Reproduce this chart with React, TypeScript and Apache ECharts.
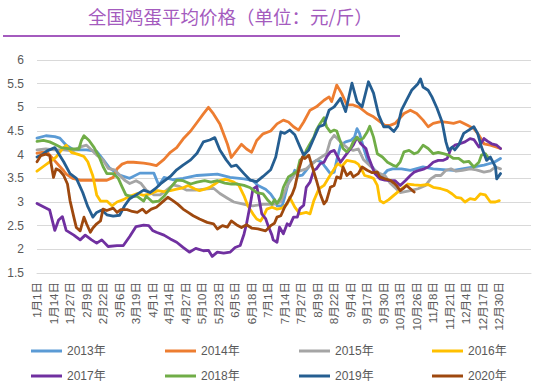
import React, { useEffect, useRef } from "react";
import * as echarts from "echarts";

const TITLE = "全国鸡蛋平均价格（单位：元/斤）";
const MONTH_DAYS = [31, 29, 31, 30, 31, 30, 31, 31, 30, 31, 30, 31];
const AXIS_LENGTH = 390;

const NAMES = ["2013年", "2014年", "2015年", "2016年", "2017年", "2018年", "2019年", "2020年"];
const COLORS = ["#5B9BD5", "#ED7D31", "#A5A5A5", "#FFC000", "#7030A0", "#70AD47", "#255E91", "#9E480E"];

// [day index from 1月1日, price]
const y2013: [number, number][] = [[0,4.35],[7,4.4],[14,4.38],[18,4.35],[23,4.2],[29,4.1],[39,4.1],[47,4.07],[52,3.9],[57,3.72],[65,3.57],[73,3.5],[81,3.61],[92,3.61],[96,3.35],[100,3.52],[107,3.47],[115,3.5],[126,3.56],[142,3.59],[152,3.52],[163,3.49],[170,3.45],[174,3.35],[180,3.27],[184,3.17],[187,3.05],[189,2.92],[193,2.92],[195,3.1],[198,3.42],[201,3.53],[203,3.67],[206,3.55],[209,3.57],[212,3.67],[216,3.81],[220,3.88],[224,3.85],[227,3.74],[231,3.6],[234,3.63],[236,3.88],[239,4.2],[243,4.27],[247,4.3],[250,4.37],[252,4.55],[254,4.45],[257,4.16],[260,3.9],[264,3.74],[268,3.6],[272,3.55],[276,3.67],[280,3.7],[287,3.7],[294,3.67],[304,3.74],[312,3.7],[328,3.67],[344,3.74],[352,3.78],[360,3.84],[365,3.92]];
const y2014: [number, number][] = [[0,4.03],[4,4.05],[8,4.05],[13,3.9],[18,3.75],[21,3.66],[23,3.59],[28,3.5],[34,3.46],[44,3.46],[55,3.46],[60,3.52],[63,3.7],[67,3.8],[71,3.84],[76,3.84],[84,3.82],[89,3.8],[94,3.77],[100,3.9],[105,4.05],[110,4.15],[115,4.33],[121,4.5],[126,4.68],[131,4.86],[135,5.0],[139,4.86],[144,4.65],[150,4.22],[153,3.94],[157,4.08],[161,4.22],[165,4.12],[169,4.05],[173,4.3],[178,4.44],[184,4.5],[189,4.65],[194,4.73],[198,4.69],[202,4.59],[206,4.52],[210,4.69],[215,4.94],[220,5.01],[226,5.15],[230,5.22],[232,5.12],[236,5.47],[240,5.29],[244,5.05],[249,5.05],[254,5.0],[260,4.87],[265,4.8],[270,4.7],[274,4.62],[278,4.62],[282,4.66],[286,4.78],[289,4.87],[294,4.94],[299,4.87],[304,4.73],[308,4.59],[312,4.66],[318,4.7],[323,4.68],[328,4.66],[333,4.7],[339,4.62],[344,4.55],[348,4.41],[352,4.23],[357,4.2],[362,4.16],[365,4.13]];
const y2015: [number, number][] = [[0,4.1],[7,4.12],[14,4.1],[21,4.1],[28,4.08],[35,4.17],[39,4.2],[43,4.1],[47,3.99],[52,3.89],[56,3.71],[61,3.68],[65,3.57],[69,3.46],[73,3.39],[78,3.45],[82,3.39],[86,3.25],[92,3.15],[97,3.15],[102,3.25],[107,3.36],[112,3.33],[118,3.25],[125,3.25],[132,3.27],[139,3.29],[144,3.18],[150,3.08],[155,3.0],[160,2.97],[165,2.94],[170,2.92],[178,2.95],[186,2.95],[192,3.0],[195,3.21],[198,3.39],[204,3.63],[212,3.7],[220,3.88],[228,4.02],[231,4.3],[234,4.41],[238,4.3],[242,4.2],[245,4.13],[249,4.09],[253,4.12],[257,3.9],[262,3.77],[266,3.67],[270,3.6],[274,3.56],[278,3.4],[282,3.3],[286,3.2],[290,3.22],[294,3.24],[300,3.28],[306,3.35],[310,3.49],[314,3.56],[318,3.56],[322,3.67],[326,3.7],[330,3.65],[335,3.67],[341,3.7],[346,3.68],[352,3.63],[357,3.66],[361,3.74],[365,3.7]];
const y2016: [number, number][] = [[0,3.65],[5,3.75],[10,3.85],[15,3.95],[20,4.12],[23,4.2],[27,4.05],[33,4.0],[37,3.96],[40,3.85],[44,3.55],[47,3.15],[50,3.02],[55,3.02],[59,2.92],[63,3.0],[68,3.05],[73,3.12],[79,3.18],[84,3.14],[89,3.17],[95,3.24],[100,3.22],[105,3.24],[110,3.27],[115,3.3],[119,3.35],[124,3.28],[128,3.24],[132,3.27],[136,3.31],[140,3.38],[144,3.45],[148,3.48],[151,3.46],[155,3.42],[159,3.35],[163,3.13],[166,2.92],[170,2.75],[173,2.64],[176,2.6],[178,2.68],[181,2.85],[185,2.89],[189,2.85],[193,2.87],[197,2.96],[199,3.1],[203,2.89],[207,2.75],[212,2.78],[215,2.75],[218,3.03],[222,3.28],[226,3.35],[230,3.53],[235,3.74],[237,3.81],[240,3.75],[244,3.88],[250,3.85],[253,3.8],[256,3.67],[258,3.56],[262,3.53],[265,3.5],[268,3.35],[270,3.03],[273,2.98],[277,3.05],[280,3.12],[284,3.21],[288,3.3],[292,3.38],[297,3.36],[302,3.35],[308,3.37],[312,3.31],[318,3.28],[323,3.24],[327,3.17],[330,3.1],[334,3.08],[337,3.0],[341,3.07],[345,3.05],[349,3.17],[353,3.15],[357,3.0],[361,3.0],[364,3.03]];
const y2017: [number, number][] = [[0,2.97],[5,2.9],[10,2.83],[14,2.4],[17,2.62],[20,2.69],[23,2.4],[29,2.3],[34,2.2],[38,2.3],[43,2.2],[47,2.13],[51,2.2],[56,2.06],[63,2.08],[68,2.08],[73,2.27],[78,2.48],[84,2.51],[88,2.5],[91,2.4],[94,2.36],[100,2.3],[105,2.22],[110,2.15],[115,2.04],[120,1.94],[125,2.02],[131,1.97],[135,1.98],[138,1.85],[142,1.94],[147,1.92],[152,1.94],[156,2.04],[160,2.08],[163,2.32],[165,2.54],[168,2.96],[170,3.27],[173,3.33],[174,3.2],[177,2.75],[180,2.65],[182,2.5],[185,2.3],[186,2.2],[189,2.15],[191,2.47],[194,2.33],[197,2.54],[199,2.5],[202,2.68],[205,2.68],[207,2.86],[210,2.93],[212,3.31],[215,3.42],[218,3.67],[220,3.7],[223,3.81],[226,3.84],[228,3.95],[231,4.06],[234,4.09],[236,3.99],[239,3.84],[242,3.95],[245,4.06],[249,4.2],[252,4.37],[255,4.23],[259,4.13],[261,3.95],[264,3.74],[266,3.6],[270,3.49],[274,3.46],[278,3.45],[282,3.45],[286,3.35],[290,3.45],[294,3.56],[297,3.63],[301,3.67],[305,3.7],[308,3.74],[312,3.84],[316,3.88],[320,3.88],[323,3.92],[326,4.13],[329,4.2],[333,4.23],[337,4.27],[341,4.34],[344,4.32],[348,4.16],[352,4.34],[355,4.28],[358,4.23],[362,4.2],[365,4.13]];
const y2018: [number, number][] = [[0,4.28],[5,4.3],[10,4.27],[14,4.22],[19,4.15],[26,4.12],[33,4.12],[35,4.3],[37,4.4],[41,4.3],[45,4.15],[49,3.95],[52,3.75],[55,3.6],[60,3.6],[64,3.5],[67,3.32],[70,3.15],[74,3.12],[79,3.12],[84,3.02],[86,3.12],[91,3.0],[96,3.02],[100,3.12],[105,3.3],[110,3.46],[115,3.45],[121,3.38],[126,3.42],[132,3.45],[137,3.42],[142,3.45],[148,3.4],[153,3.38],[158,3.38],[163,3.35],[168,3.3],[173,3.2],[178,3.17],[182,3.03],[185,2.95],[187,3.05],[189,2.97],[192,3.1],[194,3.31],[198,3.53],[202,3.6],[205,3.65],[207,3.88],[210,3.95],[212,4.09],[215,4.23],[218,4.37],[220,4.52],[223,4.66],[226,4.78],[228,4.59],[231,4.48],[234,4.52],[236,4.5],[239,4.27],[241,4.13],[244,4.06],[247,4.15],[249,4.27],[252,4.37],[254,4.3],[257,4.35],[260,4.48],[262,4.6],[265,4.37],[268,4.02],[272,3.95],[276,3.84],[280,3.78],[283,3.75],[286,3.85],[289,4.06],[293,4.09],[297,4.02],[300,4.05],[304,4.2],[308,4.13],[312,4.02],[316,4.05],[320,4.02],[324,3.99],[328,3.92],[332,3.92],[336,3.84],[340,3.86],[344,3.74],[348,3.84],[350,3.99],[353,4.02],[355,3.95]];
const y2019: [number, number][] = [[0,3.95],[4,4.0],[8,4.08],[14,4.15],[21,3.85],[26,3.6],[31,3.5],[36,3.2],[40,2.9],[44,2.68],[47,2.78],[51,2.83],[55,2.73],[60,2.7],[65,2.72],[69,2.92],[73,3.07],[78,3.15],[84,3.25],[89,3.2],[94,3.3],[98,3.4],[105,3.54],[110,3.68],[115,3.78],[121,3.89],[126,4.03],[131,4.27],[136,4.31],[140,4.36],[144,4.1],[149,3.89],[153,3.75],[157,3.78],[163,3.6],[168,3.46],[173,3.43],[178,3.54],[184,3.68],[188,3.95],[192,4.48],[195,4.45],[199,4.52],[203,4.42],[207,4.17],[210,3.99],[214,4.1],[218,4.35],[222,4.59],[226,4.63],[230,4.94],[234,5.01],[239,5.19],[243,4.91],[248,5.51],[252,5.12],[256,5.01],[261,5.54],[265,5.3],[269,4.84],[273,4.59],[277,4.59],[281,4.49],[284,4.6],[287,4.94],[291,5.15],[295,5.36],[300,5.5],[302,5.6],[304,5.43],[308,5.36],[311,5.22],[315,4.98],[319,4.69],[322,4.27],[324,4.09],[327,4.16],[329,4.1],[332,4.2],[336,4.45],[340,4.52],[344,4.59],[347,4.45],[350,4.16],[354,3.88],[357,3.95],[361,3.74],[362,3.49],[365,3.6]];
const y2020: [number, number][] = [[0,3.85],[3,3.98],[7,4.01],[10,3.98],[13,3.52],[15,3.7],[18,3.66],[21,3.56],[24,3.38],[26,3.03],[29,2.68],[31,2.46],[34,2.39],[37,2.68],[39,2.54],[42,2.36],[44,2.45],[47,2.54],[50,2.6],[52,2.85],[55,2.82],[60,2.87],[63,2.78],[66,2.84],[71,2.84],[75,2.8],[79,2.78],[83,2.85],[86,2.77],[90,2.85],[94,2.89],[100,3.03],[103,3.1],[107,3.03],[111,2.95],[115,2.85],[119,2.78],[123,2.71],[128,2.64],[134,2.57],[139,2.54],[142,2.43],[146,2.5],[150,2.47],[153,2.6],[157,2.52],[161,2.46],[165,2.52],[169,2.45],[174,2.43],[180,2.39],[184,2.5],[187,2.55],[189,2.68],[192,2.71],[195,2.89],[198,3.03],[201,3.17],[203,3.31],[206,3.67],[209,3.95],[211,3.92],[214,3.99],[216,3.81],[220,3.46],[223,3.17],[226,2.96],[228,3.03],[231,3.31],[234,3.35],[236,3.53],[239,3.5],[241,3.74],[244,3.56],[247,3.63],[249,3.53],[253,3.6],[256,3.74],[260,3.67],[264,3.62],[268,3.63],[270,3.53],[274,3.49],[278,3.46],[281,3.4],[283,3.35],[286,3.24],[289,3.3],[291,3.35],[294,3.28],[297,3.21]];

const SERIES_DATA = [y2013, y2014, y2015, y2016, y2017, y2018, y2019, y2020];

const Y_MIN = 1.5;
const Y_MAX = 6;
const Y_STEP = 0.5;

const LEGEND_LEFT = [31, 165, 299, 432];
const LEGEND_TOP = [345, 370];

function buildCategories(): string[] {
  const out: string[] = [];
  MONTH_DAYS.forEach((n, m) => {
    for (let d = 1; d <= n; d++) out.push(`${m + 1}月${d}日`);
  });
  while (out.length < AXIS_LENGTH) out.push("");
  return out;
}

export default function App() {
  const ref = useRef<HTMLDivElement>(null);
  useEffect(() => {
    if (!ref.current) return;
    const chart = echarts.init(ref.current, undefined, { renderer: "svg" });
    const font = '"Liberation Sans", "Noto Sans CJK SC", sans-serif';
    const categories = buildCategories();
    chart.setOption({
      animation: false,
      backgroundColor: "#ffffff",
      grid: { left: 37, right: 10, top: 60, bottom: 117, containLabel: false },
      xAxis: {
        type: "category",
        data: categories,
        boundaryGap: false,
        axisLine: { show: true, lineStyle: { color: "#d9d9d9", width: 1 } },
        axisTick: { show: false },
        splitLine: { show: false },
        axisLabel: {
          interval: 12,
          rotate: 90,
          margin: 9,
          fontSize: 11.5,
          color: "#595959",
          fontFamily: font,
          hideOverlap: false,
        },
      },
      yAxis: {
        type: "value",
        min: Y_MIN,
        max: Y_MAX,
        interval: Y_STEP,
        axisLine: { show: false },
        axisTick: { show: false },
        splitLine: { lineStyle: { color: "#d9d9d9", width: 1 } },
        axisLabel: { margin: 13, fontSize: 12, color: "#595959", fontFamily: font },
      },
      legend: NAMES.map((name, i) => ({
        data: [name],
        left: LEGEND_LEFT[i % 4],
        top: LEGEND_TOP[Math.floor(i / 4)],
        padding: 0,
        icon: "rect",
        itemWidth: 31,
        itemHeight: 3,
        selectedMode: false,
        textStyle: { fontSize: 12, color: "#595959", fontFamily: font },
      })),
      graphic: [
        {
          type: "text",
          left: 88,
          top: 7,
          style: {
            text: TITLE,
            fontSize: 18.5,
            fill: "#A45BBE",
            fontFamily: '"Noto Sans CJK SC", sans-serif',
          },
        },
        {
          type: "line",
          shape: { x1: 3, y1: 36, x2: 400, y2: 36 },
          style: { stroke: "#A45BBE", lineWidth: 2 },
        },
      ],
      series: NAMES.map((name, i) => ({
        name,
        type: "line",
        data: SERIES_DATA[i],
        showSymbol: false,
        symbol: "none",
        color: COLORS[i],
        lineStyle: { width: 2.8, color: COLORS[i], join: "round", cap: "round" },
      })),
    });
    return () => chart.dispose();
  }, []);
  return (
    <div
      ref={ref}
      style={{ position: "fixed", left: 0, top: 0, width: 541, height: 390 }}
    />
  );
}
